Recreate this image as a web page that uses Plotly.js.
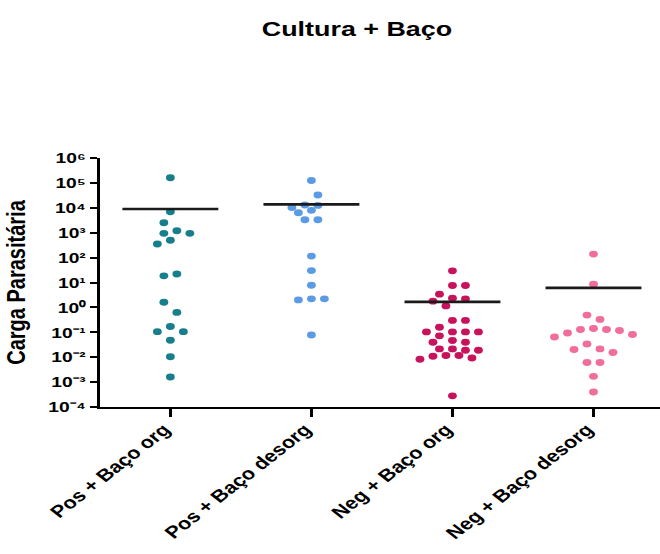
<!DOCTYPE html>
<html>
<head>
<meta charset="utf-8">
<script src="https://cdn.plot.ly/plotly-3.0.1.min.js"></script>
<style>
  html, body { margin: 0; padding: 0; background: #ffffff; overflow: hidden; width: 660px; height: 554px; }
  #chart { width: 516px; height: 554px; transform: scaleX(1.28); transform-origin: 0 0; }
</style>
</head>
<body>
<div id="chart"></div>
<script>
// ---- data ----
const categories = ["Pos + Baço org", "Pos + Baço desorg", "Neg + Baço org", "Neg + Baço desorg"];

const posOrg = [160000, 6900, 2500, 1200, 940, 940, 500, 350, 22, 18.5, 1.6, 0.63, 0.17, 0.106, 0.106, 0.048, 0.0104, 0.0016];
const posDesorg = [125000, 32500, 12900, 12500, 10200, 7900, 6300, 3300, 3300, 115, 30, 7.8, 2.2, 2.0, 2.2, 0.078];
const negOrg = [29.4, 7.6, 7.6, 3.4, 2.35, 2.2, 1.78, 1.15, 0.30, 0.30, 0.16, 0.104, 0.104, 0.104, 0.104, 0.072, 0.047, 0.040, 0.040, 0.0215, 0.0215, 0.019, 0.019, 0.0117, 0.0117, 0.0109, 0.0093, 0.0083, 0.00028];
const negDesorg = [138, 8.6, 0.49, 0.33, 0.142, 0.13, 0.13, 0.118, 0.094, 0.082, 0.065, 0.034, 0.0215, 0.0203, 0.0154, 0.0061, 0.0061, 0.0017, 0.0004];
const groupMeans = [8900, 13700, 1.67, 6.1];

const yTickVals = [1e-4, 1e-3, 1e-2, 1e-1, 1e0, 1e1, 1e2, 1e3, 1e4, 1e5, 1e6];
const yTickText = ["10⁻⁴", "10⁻³", "10⁻²", "10⁻¹", "10⁰", "10¹", "10²", "10³", "10⁴", "10⁵", "10⁶"];

// ---- styles ----
const groups = [posOrg, posDesorg, negOrg, negDesorg];
const colors = ["#177f8b", "#5b9be6", "#c8125c", "#f06e99"];
const FONT = "Liberation Sans, Arial, sans-serif";
const STRETCH = 1.28;
const W = 516, H = 554;
const M = { l: 78, r: 0, t: 158, b: 147.3 };
const XR = [-0.5, 3.475];
const YR = [-4, 6];

// pixel scales (visual, after horizontal stretch) used only for the dot-swarm layout
const pxPerUnitX = (W - M.l - M.r) / (XR[1] - XR[0]) * STRETCH;
const pxPerDecade = (H - M.t - M.b) / (YR[1] - YR[0]);
const STEP = 6.5, ROW_H = 10.2, MIN_D = 8;

function swarm(vals) {
  const pts = vals.map((v, i) => ({ i, py: -Math.log10(v) * pxPerDecade })).sort((a, b) => a.py - b.py);
  const rows = [];
  let cur = null;
  pts.forEach(p => {
    if (cur && p.py - cur[0].py < ROW_H) cur.push(p);
    else { cur = [p]; rows.push(cur); }
  });
  const placed = [];
  const off = new Array(vals.length).fill(0);
  const collides = (ox, py, list) => list.some(q => Math.hypot(q.ox - ox, q.py - py) < MIN_D);
  rows.forEach((row, r) => {
    const sign = r % 2 === 0 ? -1 : 1;
    const n = row.length;
    const slots = [];
    if (n % 2) {
      slots.push(0);
      for (let k = 1; k <= (n - 1) / 2; k++) slots.push(sign * 2 * k * STEP, -sign * 2 * k * STEP);
    } else {
      for (let k = 0; k < n / 2; k++) slots.push(sign * (2 * k + 1) * STEP, -sign * (2 * k + 1) * STEP);
    }
    const trial = row.map((p, j) => ({ i: p.i, py: p.py, ox: slots[j] }));
    const bad = trial.some(t => collides(t.ox, t.py, placed));
    if (!bad) {
      trial.forEach(t => { placed.push(t); off[t.i] = t.ox; });
    } else {
      row.forEach(p => {
        let k = 0, ox = 0;
        while (true) {
          const m = Math.ceil(k / 2);
          ox = k === 0 ? 0 : (k % 2 ? sign : -sign) * m * STEP;
          if (!collides(ox, p.py, placed)) break;
          k++;
        }
        placed.push({ i: p.i, py: p.py, ox });
        off[p.i] = ox;
      });
    }
  });
  return off;
}

const traces = [];
groups.forEach((vals, gi) => {
  const off = swarm(vals);
  traces.push({
    type: "scatter", mode: "markers",
    x: vals.map((v, i) => gi + off[i] / pxPerUnitX),
    y: vals,
    marker: { color: colors[gi], size: 6.9, line: { width: 0 } },
    hoverinfo: "y", cliponaxis: false
  });
});
const HALF = 0.34;
groupMeans.forEach((m, gi) => {
  traces.push({
    type: "scatter", mode: "lines",
    x: [gi - HALF, gi + HALF], y: [m, m],
    line: { color: "#1a1a1a", width: 2.6 },
    hoverinfo: "skip"
  });
});

const layout = {
  width: W, height: H,
  margin: M,
  paper_bgcolor: "#ffffff", plot_bgcolor: "#ffffff",
  showlegend: false,
  font: { family: FONT, color: "#000000" },
  title: {
    text: "<b>Cultura + Baço</b>",
    font: { family: FONT, size: 21, color: "#000000" },
    x: 0.5405, xref: "container", xanchor: "center",
    y: 1 - 29 / 554, yref: "container", yanchor: "middle"
  },
  xaxis: {
    range: XR, tickmode: "array", tickvals: [0, 1, 2, 3], ticktext: categories,
    tickangle: -45, ticks: "outside", ticklen: 8, tickwidth: 2, tickcolor: "#000000",
    ticklabelshift: -5, ticklabelstandoff: -4,
    showline: true, linecolor: "#000000", linewidth: 2,
    showgrid: false, zeroline: false,
    tickfont: { family: FONT, size: 17, color: "#000000", weight: "bold" }
  },
  yaxis: {
    type: "log", range: YR, tickmode: "array", tickvals: yTickVals, ticktext: yTickText,
    ticks: "outside", ticklen: 6, tickwidth: 2, tickcolor: "#000000",
    showline: true, linecolor: "#000000", linewidth: 2,
    showgrid: false, zeroline: false,
    tickfont: { family: FONT, size: 15, color: "#000000", weight: "bold" },
    title: { text: "<b>Carga Parasitária</b>", font: { family: FONT, size: 20, color: "#000000" }, standoff: 12 }
  }
};

Plotly.newPlot("chart", traces, layout, { displayModeBar: false, staticPlot: true });
</script>
</body>
</html>
